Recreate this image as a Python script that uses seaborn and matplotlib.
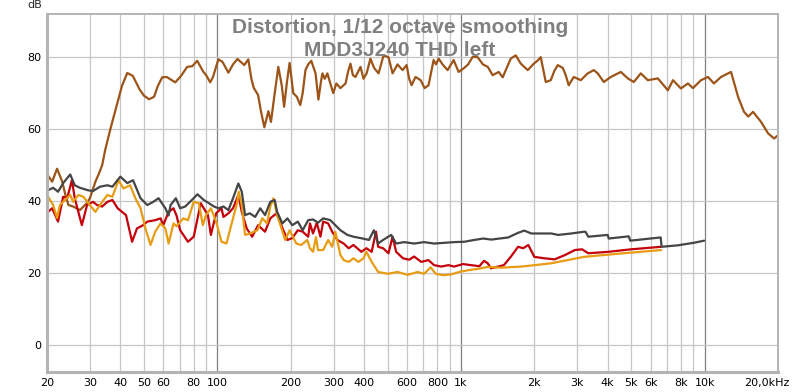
import matplotlib
matplotlib.use("Agg")
import pandas as pd
import seaborn as sns
from matplotlib import pyplot as plt
from matplotlib.ticker import FixedLocator, FixedFormatter
from matplotlib.transforms import ScaledTranslation

# fundamental (brown)
freq_fund = [20, 21, 22, 23.1, 23.8, 24.5, 25.6, 27.3, 29.2, 30, 31.6, 32.6, 33.7, 34.6, 36.3,
             38.8, 40.6, 42.7, 45, 48, 50, 52.5, 55, 57, 59.4, 62, 67.2, 71, 75.2, 79, 82.7,
             87.5, 90, 93.5, 96, 101, 105, 111, 116, 121, 129, 134, 138, 141, 147, 151, 156,
             162, 166, 172, 178, 184, 188, 193, 198, 205, 212, 219, 224, 230, 236, 243, 253,
             260, 266, 270, 276, 283, 290, 299, 308, 320, 336, 344, 352, 360, 369, 387, 398,
             410, 425, 440, 459, 470, 481, 504, 524, 549, 576, 598, 613, 627, 640, 651, 683,
             709, 736, 755, 772, 790, 810, 840, 881, 910, 933, 978, 1026, 1070, 1117, 1170,
             1230, 1288, 1349, 1429, 1483, 1540, 1600, 1678, 1760, 1880, 1990, 2060, 2125,
             2228, 2336, 2410, 2496, 2617, 2690, 2768, 2902, 3102, 3313, 3508, 3641, 3855,
             4120, 4529, 4840, 5120, 5470, 5845, 6425, 7063, 7413, 7992, 8538, 8954, 9660,
             10320, 10920, 11670, 12830, 13710, 14510, 15100, 15800, 17050, 18220, 19280, 20000]
db_fund = [47.5, 45.4, 49, 45.4, 41.7, 38.9, 38.5, 37.5, 39.5, 40.8, 45.4, 47.5, 50, 54, 59.7,
           67, 72, 75.6, 74.8, 71, 69.3, 68.3, 69, 72, 74.4, 74.5, 73, 74.8, 77.3, 77.5, 79,
           76, 75, 73, 74.5, 79.4, 78.7, 75.7, 78, 79.5, 77.8, 79.4, 74, 71.5, 69.5, 65, 60.5,
           65, 62, 70, 77.3, 72, 66.2, 73, 78.4, 70, 69, 66.7, 70, 76.4, 78, 79, 75.5,
           68.2, 73, 75.5, 74, 75.5, 73, 70, 72.7, 71.4, 72.7, 76, 78.2, 75, 74.5, 77.3, 74,
           75.5, 79.6, 77, 75.5, 78, 80.5, 80, 75.5, 78, 76.4, 77.8, 74, 72.2, 73.5, 74.5, 73.6,
           71.4, 72.2, 76, 79.2, 78, 79.6, 78, 76.4, 78, 79.2, 75.9, 76.9, 78, 80.1, 80,
           78, 77.3, 75, 75.9, 74.4, 77, 79.6, 80.5, 78.2, 76.4, 78.2, 79, 80,
           73.1, 73.6, 76, 77.8, 77, 75, 72.2, 74.5, 73.6, 75.5, 76.4, 75.5, 73.1,
           74.5, 75.9, 74.1, 73.1, 75.5, 73.6, 74.1, 70.8, 73.6, 71.3, 72.7, 71.4, 73.6,
           74.5, 72.7, 74.5, 75.9, 69, 64.8, 63.5, 64.8, 62, 58.8, 57.4, 58.3]

# THD (dark grey)
freq_thd = [20.2, 21.2, 22.2, 23.3, 24.9, 26, 27.3, 29.5, 30.9, 33, 35.4, 37.1, 40, 42.7, 45.1,
            48.4, 51.6, 54.6, 57.4, 61.2, 63.1, 64.3, 67.6, 70.4, 73.8, 77.3, 82.9, 88, 92.4,
            96.9, 101, 106, 111, 116, 122, 126, 130, 136, 143, 150, 157, 165, 172, 176, 185,
            194, 203, 214, 224, 236, 247, 259, 272, 291, 305, 320, 342, 362, 395, 419, 439,
            457, 479, 517, 542, 584, 642, 706, 776, 853, 938, 1031, 1134, 1234, 1331, 1563,
            1718, 1819, 1943, 2347, 2506, 2836, 3207, 3250, 3330, 4000, 4040, 4880, 4950,
            6600, 6660, 7750, 9010, 9950]
db_thd = [43, 43.7, 42.6, 45, 47.4, 44.4, 43.7, 43, 42.8, 44, 44.4, 44, 46.8, 45, 45.8,
          40.8, 38.9, 39.8, 40.8, 38, 36, 38.9, 40.8, 38, 38.5, 39.8, 41.9, 40.3, 39.4,
          38.5, 38, 38.5, 37.5, 40.8, 44.9, 42.6, 36.1, 36.6, 35.6, 38, 36.1, 39.8, 40.3, 37, 33.8,
          35.2, 33.3, 34.3, 31.9, 34.7, 34.9, 34, 35.2, 34.7, 33.3, 31.9, 30.6, 30.1, 29.6, 29.2, 31.9,
          28.2, 29.2, 30.6, 28.2, 28.6, 28.2, 28.6, 28.2, 28.4, 28.6, 28.7, 29.2, 29.6, 29.3, 29.9,
          31.2, 31.8, 31, 31, 30.6, 31, 31.5, 31.4, 30.1, 30.6, 29.6, 30.2, 29,
          29.9, 27.3, 27.7, 28.4, 29]

# second harmonic (red)
freq_h2 = [20.2, 21, 22.2, 23.3, 24.2, 25.3, 26, 27.8, 29.2, 30.9, 32.1, 33.7, 35.4, 37.1, 39,
           42.2, 44.7, 46.8, 49.6, 51.6, 55.6, 58.5, 60, 63.1, 66.1, 68, 70.4, 75.8, 80, 85.5,
           91.5, 94.1, 98.9, 104, 106, 111, 116, 122, 126, 132, 139, 147, 157, 165, 175, 184,
           194, 203, 214, 224, 236, 240, 247, 256, 265, 272, 285, 296, 311, 330, 346, 362,
           390, 409, 430, 448, 457, 479, 504, 524, 542, 578, 613, 642, 687, 735, 776, 830,
           888, 938, 1019, 1100, 1190, 1243, 1288, 1328, 1500, 1600, 1715, 1800, 1890, 2000,
           2200, 2420, 2670, 2935, 3140, 3330, 4020, 4990, 6630]
db_h2 = [37, 38, 34.3, 41.2, 40.8, 45.8, 40.8, 33.3, 38.9, 39.8, 38.9, 38.5, 39.8, 40.3, 38,
         36.1, 28.7, 32.4, 33.3, 34.3, 34.7, 35.2, 33.3, 37, 38, 36, 31.9, 28.7, 30.1, 39.4,
         36.1, 30.6, 36.6, 38, 35.6, 36.6, 38, 41.7, 37, 32.4, 30.1, 33.3, 31.5, 35.2, 36.6, 32.9,
         29.2, 29.7, 31.9, 31.5, 30.1, 33.8, 31, 34, 30.1, 34.3, 33.8, 31.5, 29.2, 28.2, 26.9, 27.8,
         25.9, 26.9, 25.9, 31.5, 27.3, 26.9, 25.5, 30.1, 25.9, 24.1, 23.7, 24.6, 23.1, 23.6, 22.2, 21.8,
         22.2, 21.8, 22.5, 22.2, 21.9, 23.4, 22.7, 21.3, 22.2, 24.5, 27.3, 26.9, 27.8, 24.5,
         24.1, 23.8, 25, 26.4, 26.6, 25.5, 25.9, 26.6, 27.3]

# third harmonic (orange)
freq_h3 = [20.2, 21.2, 22, 22.6, 23.7, 24.9, 25.6, 26.9, 28.2, 30, 31.6, 33.7, 35.4, 37.1, 39.3,
           41.2, 43.9, 46.1, 48.4, 50.7, 53.2, 55.6, 58.5, 61.2, 63.1, 66.1, 68, 72.5, 75.8, 80,
           84, 87.2, 89.8, 94.1, 98.9, 104, 109, 114, 120, 122.5, 126, 130, 136, 146, 153, 160,
           165, 170, 176, 190, 198, 211, 221, 234, 240, 247, 254, 259, 272, 285, 296, 305, 320,
           330, 346, 362, 379, 398, 409, 430, 457, 501, 549, 604, 664, 706, 751, 788, 843, 910,
           982, 1074, 1180, 1290, 1460, 1770, 2340, 3200, 4300, 6630]
db_h3 = [41.2, 38.9, 35.3, 38.9, 40.3, 41.7, 39.8, 41.7, 41.2, 38.9, 37, 39.8, 41.7, 41.2, 45.8,
         43.5, 44.4, 40.8, 38, 32.4, 27.8, 31.5, 33.8, 32.4, 28.2, 33.8, 33, 35.2, 34.7, 39.8,
         39.4, 33.3, 36.1, 38, 34.3, 28.7, 28.2, 33.3, 38.9, 42.6, 38.9, 30.6, 31, 31.9, 35.2, 33.8,
         38.5, 40.8, 36.1, 29.2, 31.9, 28.2, 27.8, 29.2, 26.9, 25.9, 30, 26.4, 26.4, 29.2, 27.3, 31.5, 25,
         23.6, 23.1, 24.1, 23.1, 24.1, 25.9, 23.1, 20.3, 19.8, 20.3, 19.5, 20.3, 19.8, 21.6, 19.8, 19.4, 19.6,
         20.3, 20.8, 21.2, 21.7, 21.5, 21.8, 22.7, 24.5, 25.3, 26.4]

series_order = ["Fundamental", "H2", "H3", "THD"]
colors = {
    "Fundamental": "#9c5418",
    "H2": "#c4000a",
    "H3": "#e89c14",
    "THD": "#454545",
}

frames = []
for name, f, d in [("Fundamental", freq_fund, db_fund), ("H2", freq_h2, db_h2),
                   ("H3", freq_h3, db_h3), ("THD", freq_thd, db_thd)]:
    frames.append(pd.DataFrame({"freq": f, "db": d, "series": name}))
df = pd.concat(frames, ignore_index=True)

sns.set_style("white")
plt.rcParams["font.family"] = ["DejaVu Sans"]

fig = plt.figure(figsize=(8, 3.92), dpi=100)
ax = fig.add_axes([47 / 800, 20 / 392, 731 / 800, 358 / 392])

sns.lineplot(
    data=df,
    x="freq",
    y="db",
    hue="series",
    hue_order=series_order,
    palette=colors,
    estimator=None,
    sort=False,
    legend=False,
    linewidth=1.6,
    ax=ax,
)

ax.set_xscale("log")
ax.set_xlim(20, 20000)
ax.set_ylim(-7.5, 92)

# decade lines darker, the rest light
major_x = [100, 1000, 10000]
major_labels = ["100", "1k", "10k"]
minor_x = [20, 30, 40, 50, 60, 70, 80, 90,
           200, 300, 400, 500, 600, 700, 800, 900,
           2000, 3000, 4000, 5000, 6000, 7000, 8000, 9000, 20000]
minor_labels = ["20", "30", "40", "50", "60", "", "80", "",
                "200", "300", "400", "", "600", "", "800", "",
                "2k", "3k", "4k", "5k", "6k", "", "8k", "", "20,0kHz"]
ax.xaxis.set_major_locator(FixedLocator(major_x))
ax.xaxis.set_major_formatter(FixedFormatter(major_labels))
ax.xaxis.set_minor_locator(FixedLocator(minor_x))
ax.xaxis.set_minor_formatter(FixedFormatter(minor_labels))
ax.set_yticks([0, 20, 40, 60, 80])

ax.grid(True, which="major", axis="x", color="#808080", linewidth=0.9)
ax.grid(True, which="minor", axis="x", color="#c6c6c6", linewidth=0.9)
ax.grid(True, which="major", axis="y", color="#c6c6c6", linewidth=0.9)
ax.set_axisbelow(True)

ax.tick_params(axis="both", which="both", length=0, labelsize=8, colors="black")
ax.tick_params(axis="x", which="both", pad=4)
ax.tick_params(axis="y", pad=4)
ax.set_xlabel("")
ax.set_ylabel("")

for side, spine in ax.spines.items():
    spine.set_visible(True)
    spine.set_color("#b4b4b4")
    spine.set_linewidth(2.2 if side in ("left", "bottom") else 1.4)

fig.canvas.draw()
for lab in ax.xaxis.get_minorticklabels():
    if lab.get_text() == "20,0kHz":
        lab.set_transform(lab.get_transform() + ScaledTranslation(-11 / 100, 0, fig.dpi_scale_trans))

fig.text(42 / 800, 1 - 8 / 392, "dB", ha="right", va="baseline", fontsize=8)

title_kw = dict(ha="center", va="baseline", fontsize=15, fontweight="bold",
                color="#808080", family=["Liberation Sans", "DejaVu Sans"], zorder=10)
fig.text(0.5, 1 - 33 / 392, "Distortion, 1/12 octave smoothing", **title_kw)
fig.text(0.5, 1 - 56.5 / 392, "MDD3J240 THD left", **title_kw)

fig.savefig("out.png", dpi=100, facecolor="white")
